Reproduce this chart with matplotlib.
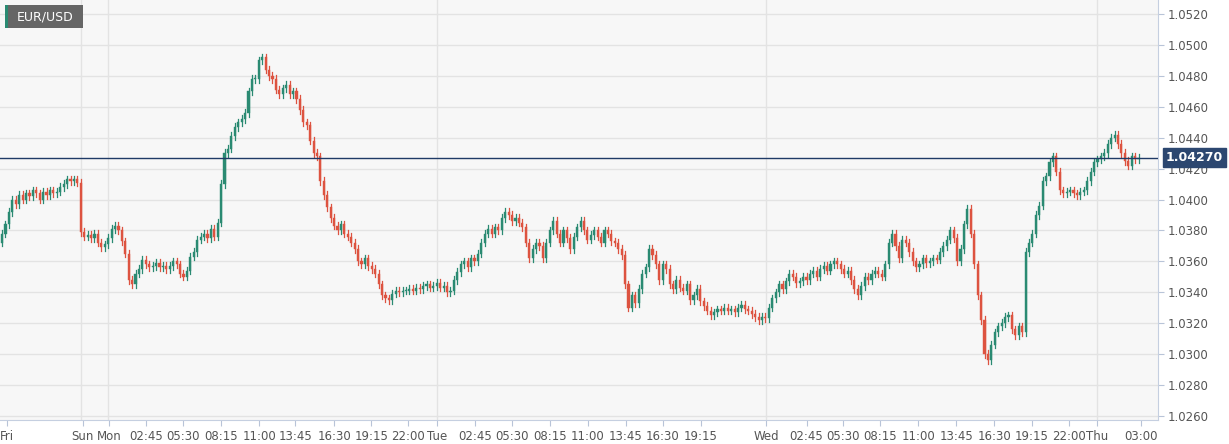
import matplotlib
matplotlib.use("Agg")
import matplotlib.pyplot as plt
from matplotlib.patches import Rectangle

closes_pips = [378,384,392,400,397,403,400,404,402,406,404,400,405,403,406,404,405,408,410,413,412,413,411,
379,376,377,375,378,372,369,371,375,381,383,380,373,365,348,345,352,355,361,358,356,357,359,356,357,355,357,360,358,352,350,354,363,366,374,376,378,375,381,376,385,
410,430,433,441,447,450,452,456,470,478,478,490,492,484,480,478,471,468,472,474,468,470,465,458,450,448,438,430,428,412,403,395,388,383,380,384,378,376,372,368,360,358,362,357,355,352,345,338,336,335,339,341,340,341,341,342,341,343,342,344,345,343,344,346,343,344,340,341,348,353,358,360,356,362,360,365,372,378,381,378,382,380,388,392,390,386,388,385,382,372,362,368,372,370,362,372,380,386,378,372,380,375,368,376,382,386,380,374,377,380,376,372,380,378,373,372,368,364,345,330,338,333,342,352,356,368,364,358,348,358,355,345,342,348,343,341,345,335,338,342,334,331,328,325,327,329,328,330,328,329,327,330,332,329,328,326,324,322,324,323,330,336,340,345,342,347,352,350,346,347,350,348,352,354,350,355,357,354,358,360,358,355,352,354,348,342,338,344,350,348,352,354,352,350,358,372,378,370,362,374,372,366,360,356,358,362,359,360,362,361,366,370,374,380,375,360,368,384,394,378,358,338,322,300,296,306,314,318,320,324,325,316,312,318,314,366,372,378,390,396,412,415,424,428,418,406,404,405,406,404,403,405,406,412,418,424,426,428,430,436,440,442,436,430,425,422,428,426,427]
first_open_pips = 372
wick_pips = 2.4
tick_pos = [1.5,23.6,31.2,42,52.8,64.1,75.2,85.7,97.1,107.9,118.7,127.1,138.2,149,160,171.1,182.2,193,204.1,223.3,235,245.8,256.6,267.6,278.7,289.8,300.9,311.7,319.8,332.7]
tick_labels = ["Fri","Sun","Mon","02:45","05:30","08:15","11:00","13:45","16:30","19:15","22:00","Tue","02:45","05:30","08:15","11:00","13:45","16:30","19:15","Wed","02:45","05:30","08:15","11:00","13:45","16:30","19:15","22:00","Thu","03:00"]
day_lines = [23.0, 31.0, 127.1, 223.3, 319.8]
last_price = 1.0427
y_ticks = [1.0260 + 0.002*k for k in range(14)]

base = 1.0
closes = [base + p/1e4 for p in closes_pips]
opens = [base + first_open_pips/1e4] + closes[:-1]

fig = plt.figure(figsize=(12.29, 4.44), dpi=100)
fig.patch.set_facecolor("white")
ax = fig.add_axes([0.0, 0.054, 0.942, 0.946])
ax.set_facecolor("#f7f7f7")
ax.set_xlim(-0.6, 337.6)
ax.set_ylim(1.02573, 1.05291)

for yv in y_ticks:
    ax.axhline(yv, color="#e3e3e3", lw=1, zorder=0)
for xv in day_lines:
    ax.axvline(xv, color="#e3e3e3", lw=1, zorder=0)

green, red = "#2a8a72", "#dd5340"
w = 0.62
for i, (o, c) in enumerate(zip(opens, closes)):
    col = green if c >= o else red
    hi = max(o, c) + wick_pips/1e4
    lo = min(o, c) - wick_pips/1e4
    ax.plot([i, i], [lo, hi], color=col, lw=0.9, zorder=2)
    h = abs(c - o)
    if h < 0.00004:
        h = 0.00004
    ax.add_patch(Rectangle((i - w/2, min(o, c)), w, h, facecolor=col, edgecolor=col, lw=0.3, zorder=3))

ax.axhline(last_price, color="#1f3a66", lw=1.0, zorder=4)

ax.yaxis.tick_right()
ax.set_yticks(y_ticks)
ax.set_yticklabels([f"{v:.4f}" for v in y_ticks], fontsize=8.5, color="#555555")
ax.tick_params(axis="y", length=4, color="#b8c4d8", pad=3)
ax.set_xticks(tick_pos)
ax.set_xticklabels(tick_labels, fontsize=8.5, color="#555555")
ax.tick_params(axis="x", length=4, color="#b8c4d8", pad=3)
for s in ["top", "left"]:
    ax.spines[s].set_visible(False)
ax.spines["right"].set_color("#c5cfe0")
ax.spines["bottom"].set_color("#c5cfe0")

ax.annotate(f"{last_price:.5f}", xy=(1.0, last_price), xycoords=("axes fraction", "data"),
            xytext=(6, 0), textcoords="offset points", ha="left", va="center",
            fontsize=9, fontweight="bold", color="white",
            bbox=dict(boxstyle="square,pad=0.25", fc="#2c4770", ec="#2c4770"), zorder=6)

fig.patches.append(Rectangle((5/1229, 1-28/444), 78/1229, 23/444, transform=fig.transFigure,
                             facecolor="#666666", edgecolor="none"))
fig.patches.append(Rectangle((5/1229, 1-28/444), 3/1229, 23/444, transform=fig.transFigure,
                             facecolor="#2a8a72", edgecolor="none"))
fig.text(17/1229, 1-16.5/444, "EUR/USD", color="white", fontsize=9, va="center", ha="left")

fig.savefig("out.png", dpi=100)
